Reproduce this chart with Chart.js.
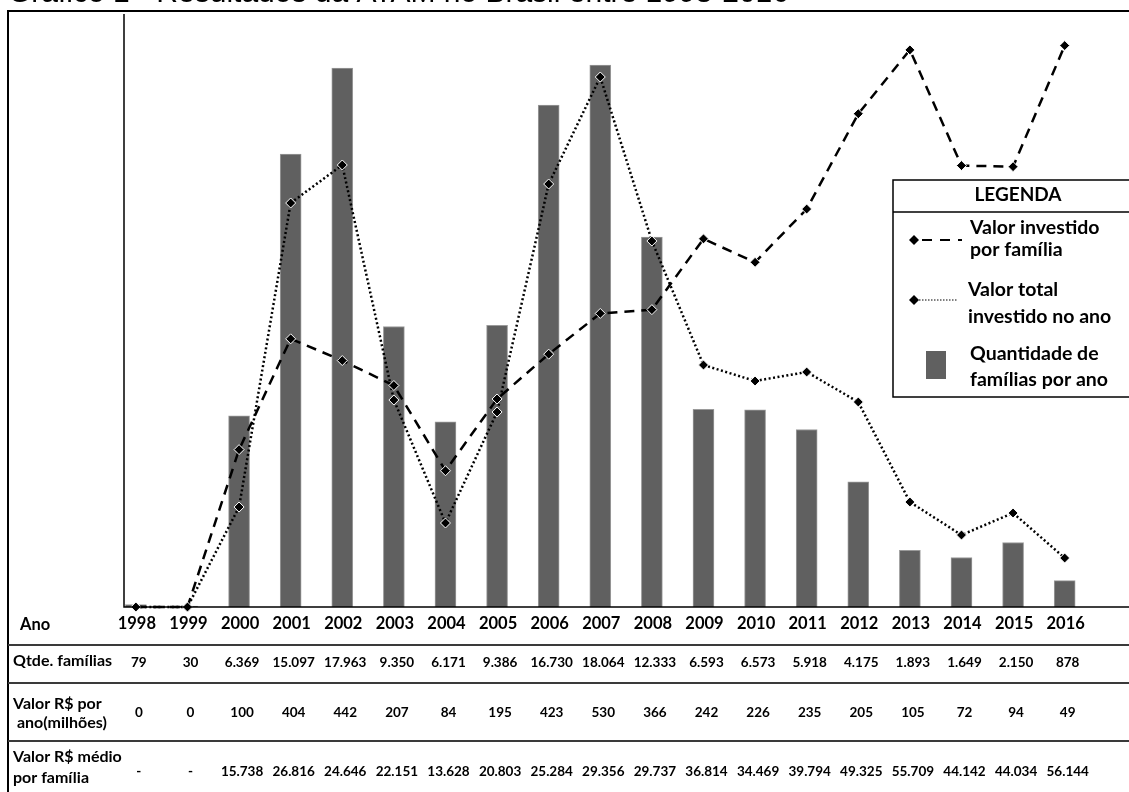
<!DOCTYPE html>
<html lang="pt-BR">
<head>
    <meta charset="UTF-8">
    <title>Gráfico 1 - Resultados no Brasil entre 1998-2016</title>
    <script src="https://cdn.jsdelivr.net/npm/chart.js"></script>
    <style>
        body {
            margin: 0;
            padding: 0;
            background: #ffffff;
            overflow: hidden;
        }
        canvas {
            display: block;
        }
    </style>
</head>
<body>
    <canvas id="grafico" width="1129" height="792"></canvas>
    <script>
        // dados por ano
        const anos = [1998, 1999, 2000, 2001, 2002, 2003, 2004, 2005, 2006, 2007, 2008, 2009, 2010, 2011, 2012, 2013, 2014, 2015, 2016];
        const qtdeFamilias = [79, 30, 6369, 15097, 17963, 9350, 6171, 9386, 16730, 18064, 12333, 6593, 6573, 5918, 4175, 1893, 1649, 2150, 878];
        const valorAno = [0, 0, 100, 404, 442, 207, 84, 195, 423, 530, 366, 242, 226, 235, 205, 105, 72, 94, 49];
        const valorFamilia = [0, 0, 15738, 26816, 24646, 22151, 13628, 20803, 25284, 29356, 29737, 36814, 34469, 39794, 49325, 55709, 44142, 44034, 56144];

        const titulo = 'Gráfico 1 - Resultados da ATAM no Brasil entre 1998-2016';
        const fonteTabela = 'Lato, "Open Sans", sans-serif';

        // 15738 -> "15.738"
        function milhar(v) {
            return String(v).replace(/\B(?=(\d{3})+(?!\d))/g, '.');
        }

        const linhasTabela = [
            { rotulo: ['Qtde. famílias'], valores: qtdeFamilias, fmt: milhar, yRot: [661], yVal: 663 },
            { rotulo: ['Valor R$ por', ' ano(milhões)'], valores: valorAno, fmt: v => String(v), yRot: [704, 723], yVal: 713 },
            { rotulo: ['Valor R$ médio', 'por família'], valores: valorFamilia, fmt: v => v ? milhar(v) : '-', yRot: [757, 778], yVal: 772 }
        ];

        const pontos = arr => anos.map((a, i) => ({ x: a, y: arr[i] }));

        // moldura, título, tabela e legenda
        const molduraTabela = {
            id: 'molduraTabela',
            afterDraw(chart) {
                const ctx = chart.ctx;
                const area = chart.chartArea;
                const xs = chart.scales.x;
                ctx.save();

                // título (cortado no topo)
                ctx.fillStyle = '#000';
                ctx.font = '30px "Liberation Sans", Arial, sans-serif';
                ctx.textAlign = 'left';
                ctx.textBaseline = 'alphabetic';
                ctx.fillText(titulo, 8, 2);

                // moldura externa
                ctx.strokeStyle = '#000';
                ctx.lineWidth = 2;
                ctx.beginPath();
                ctx.moveTo(8, 800);
                ctx.lineTo(8, 11);
                ctx.lineTo(1140, 11);
                ctx.stroke();

                // eixos
                ctx.lineWidth = 1.5;
                ctx.beginPath();
                ctx.moveTo(area.left, 14);
                ctx.lineTo(area.left, area.bottom);
                ctx.lineTo(1140, area.bottom);
                ctx.stroke();

                // linhas da tabela
                ctx.strokeStyle = '#3a3a3a';
                ctx.lineWidth = 2;
                [645, 683, 741].forEach(y => {
                    ctx.beginPath();
                    ctx.moveTo(8, y);
                    ctx.lineTo(1140, y);
                    ctx.stroke();
                });

                // linha dos anos
                ctx.fillStyle = '#000';
                ctx.textBaseline = 'middle';
                ctx.font = 'bold 16.5px ' + fonteTabela;
                ctx.textAlign = 'left';
                ctx.fillText('Ano', 20, 625);
                ctx.textAlign = 'center';
                anos.forEach(a => ctx.fillText(String(a), xs.getPixelForValue(a) + 1, 624));

                // demais linhas
                linhasTabela.forEach(l => {
                    ctx.font = 'bold 16px ' + fonteTabela;
                    ctx.textAlign = 'left';
                    l.rotulo.forEach((t, k) => ctx.fillText(t, 13, l.yRot[k]));
                    ctx.font = 'bold 13.5px ' + fonteTabela;
                    ctx.textAlign = 'center';
                    l.valores.forEach((v, i) => ctx.fillText(l.fmt(v), xs.getPixelForValue(anos[i]) + 3, l.yVal));
                });

                // legenda
                const lx = 893, ly = 180;
                ctx.fillStyle = '#fff';
                ctx.fillRect(lx, ly, 250, 217);
                ctx.strokeStyle = '#000';
                ctx.lineWidth = 1.5;
                ctx.strokeRect(lx, ly, 260, 217);
                ctx.beginPath();
                ctx.moveTo(lx, 212);
                ctx.lineTo(1140, 212);
                ctx.stroke();

                ctx.fillStyle = '#000';
                ctx.font = 'bold 19px ' + fonteTabela;
                ctx.textAlign = 'center';
                ctx.fillText('LEGENDA', 1018, 195);

                const losango = (x, y) => {
                    ctx.save();
                    ctx.fillStyle = '#000';
                    ctx.beginPath();
                    ctx.moveTo(x, y - 5);
                    ctx.lineTo(x + 5, y);
                    ctx.lineTo(x, y + 5);
                    ctx.lineTo(x - 5, y);
                    ctx.closePath();
                    ctx.fill();
                    ctx.restore();
                };

                ctx.lineWidth = 2;
                ctx.setLineDash([10, 8]);
                ctx.beginPath();
                ctx.moveTo(922, 240);
                ctx.lineTo(962, 240);
                ctx.stroke();
                losango(914, 240);

                ctx.lineWidth = 1;
                ctx.setLineDash([1.5, 1.5]);
                ctx.beginPath();
                ctx.moveTo(916, 300);
                ctx.lineTo(958, 300);
                ctx.stroke();
                losango(914, 300);
                ctx.setLineDash([]);

                ctx.fillStyle = '#606060';
                ctx.fillRect(926, 351, 20, 28);

                ctx.fillStyle = '#000';
                ctx.font = 'bold 19.5px ' + fonteTabela;
                ctx.textAlign = 'left';
                ctx.fillText('Valor investido', 970, 228);
                ctx.fillText('por família', 970, 250);
                ctx.fillText('Valor total', 968, 290);
                ctx.fillText('investido no ano', 968, 317);
                ctx.fillText('Quantidade de', 970, 354);
                ctx.fillText('famílias por ano', 970, 380);

                ctx.restore();
            }
        };

        new Chart(document.getElementById('grafico'), {
            type: 'bar',
            data: {
                datasets: [
                    {
                        type: 'line',
                        label: 'Valor investido por família',
                        data: pontos(valorFamilia),
                        yAxisID: 'yFam',
                        borderColor: '#000',
                        borderWidth: 2.5,
                        borderDash: [10, 7],
                        pointStyle: 'rectRot',
                        pointRadius: 5,
                        pointBackgroundColor: '#000',
                        pointBorderColor: '#fff',
                        pointBorderWidth: 1,
                        tension: 0,
                        clip: false,
                        order: 1
                    },
                    {
                        type: 'line',
                        label: 'Valor total investido no ano',
                        data: pontos(valorAno),
                        yAxisID: 'yTotal',
                        borderColor: '#000',
                        borderWidth: 2.5,
                        borderDash: [2, 2.5],
                        pointStyle: 'rectRot',
                        pointRadius: 5,
                        pointBackgroundColor: '#000',
                        pointBorderColor: '#fff',
                        pointBorderWidth: 1,
                        tension: 0,
                        clip: false,
                        order: 2
                    },
                    {
                        type: 'bar',
                        label: 'Quantidade de famílias por ano',
                        data: pontos(qtdeFamilias),
                        yAxisID: 'yQtde',
                        backgroundColor: '#606060',
                        borderColor: '#9a9a9a',
                        borderWidth: 1,
                        barThickness: 21,
                        order: 3
                    }
                ]
            },
            options: {
                responsive: false,
                animation: false,
                layout: {
                    padding: { left: 124, right: 0, top: 7, bottom: 185 }
                },
                scales: {
                    x: { type: 'linear', display: false, offset: false, min: 1997.77, max: 2017.13 },
                    yQtde: { display: false, min: 0, max: 20000 },
                    yTotal: { display: false, min: 0, max: 600 },
                    yFam: { display: false, min: 0, max: 60000 }
                },
                plugins: {
                    legend: { display: false },
                    tooltip: { enabled: false }
                }
            },
            plugins: [molduraTabela]
        });
    </script>
</body>
</html>
